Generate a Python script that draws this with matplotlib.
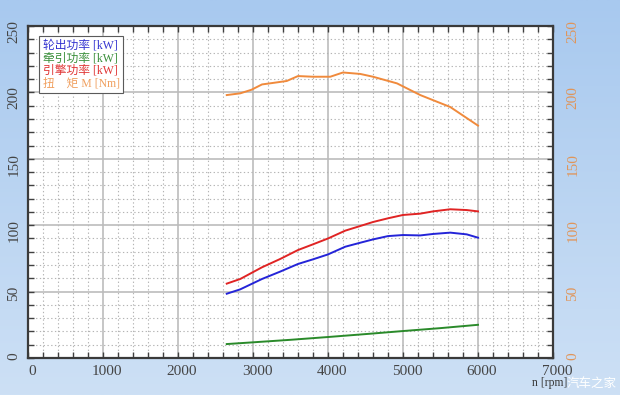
import matplotlib
matplotlib.use('Agg')
import matplotlib.pyplot as plt
import matplotlib.transforms as mtransforms
import numpy as np
from matplotlib.colors import LinearSegmentedColormap

# === DATA ===
rpm_torque = [2650, 2830, 2980, 3120, 3250, 3450, 3600, 3800, 4030, 4200,
              4430, 4600, 4920, 5230, 5630, 6000]
torque = [198, 199.3, 202, 206, 207, 208.6, 212.3, 211.8, 211.8, 215,
          213.9, 211.8, 206.8, 198, 189, 175]

rpm_power = [2650, 2830, 3120, 3360, 3600, 3800, 4000, 4230, 4430, 4600,
             4800, 5000, 5230, 5400, 5630, 5850, 6000]
engine_kw = [56, 59.5, 68.3, 74.5, 81.3, 85.6, 90, 95.9, 99.4, 102.4,
             105.2, 107.7, 108.7, 110.4, 112, 111.4, 110.4]
wheel_kw = [48.4, 51.7, 59.5, 65, 70.8, 74.3, 78, 83.8, 86.8, 89.3,
            91.8, 92.6, 92.3, 93.4, 94.4, 93.1, 90.6]

rpm_traction = [2650, 3000, 3500, 4000, 4500, 5000, 5500, 6000]
traction_kw = [10.5, 11.8, 13.7, 15.8, 18, 20.3, 22.5, 25]

x_ticks = [0, 1000, 2000, 3000, 4000, 5000, 6000, 7000]
y_ticks = [0, 50, 100, 150, 200, 250]

labels = ['轮出功率 [kW]', '牵引功率 [kW]', '引擎功率 [kW]', '扭\u3000矩 M [Nm]']
colors = ['#2424d8', '#2a8a2a', '#e02424', '#f08a3c']
legend_colors = ['#3434d0', '#3a8f3a', '#e03434', '#f0a060']
tick_color_right = '#e0955a'

plt.rcParams['font.family'] = ['Liberation Serif', 'Noto Sans CJK SC', 'DejaVu Sans']

fig = plt.figure(figsize=(6.2, 3.95), dpi=100)

# background gradient
bg = fig.add_axes([0, 0, 1, 1], zorder=-10)
cmap = LinearSegmentedColormap.from_list('bg', ['#a8c9ef', '#cde0f5'])
bg.imshow(np.linspace(0, 1, 256).reshape(-1, 1), aspect='auto', cmap=cmap,
          extent=[0, 1, 0, 1])
bg.axis('off')

ax = fig.add_axes([28 / 620, 1 - 358 / 395, 525 / 620, 332 / 395])
ax.set_facecolor('white')

ax.plot(rpm_power, wheel_kw, color=colors[0], lw=1.4, label=labels[0], zorder=3)
ax.plot(rpm_traction, traction_kw, color=colors[1], lw=1.4, label=labels[1], zorder=3)
ax.plot(rpm_power, engine_kw, color=colors[2], lw=1.4, label=labels[2], zorder=3)
ax.plot(rpm_torque, torque, color=colors[3], lw=1.4, label=labels[3], zorder=3)

ax.set_xlim(0, 7000)
ax.set_ylim(0, 250)
ax.set_xticks(x_ticks)
ax.set_yticks(y_ticks)
ax.set_xticks(np.arange(0, 7001, 200), minor=True)
ax.set_yticks(np.arange(0, 251, 10), minor=True)
ax.grid(True, which='major', color='#bcbcbc', lw=1.2)
ax.grid(True, which='minor', color='#b4b4b4', lw=0.8, ls=(0, (1.2, 2.2)))
ax.set_axisbelow(True)
ax.tick_params(which='both', direction='in', top=True, right=True,
               labelbottom=False, labelleft=False, color='#404040')
ax.tick_params(which='both', length=4, width=1)
for sp in ax.spines.values():
    sp.set_color('#3a3a3a')
    sp.set_linewidth(1.6)

# tick labels drawn as text so their offsets match the reference
up6 = mtransforms.ScaledTranslation(0, 6 / 100, fig.dpi_scale_trans)
ytrans_l = mtransforms.blended_transform_factory(ax.transAxes, ax.transData) + up6
for v in y_ticks:
    ax.text(-7.5 / 525, v, str(v), transform=ytrans_l, rotation=90,
            ha='right', va='top', fontsize=11, color='#454545', clip_on=False)
    ax.text(1 + 13.5 / 525, v, str(v), transform=ytrans_l, rotation=90,
            ha='left', va='top', fontsize=11, color=tick_color_right, clip_on=False)

right4 = mtransforms.ScaledTranslation(4 / 100, 0, fig.dpi_scale_trans)
xtrans = mtransforms.blended_transform_factory(ax.transData, ax.transAxes) + right4
for v in x_ticks:
    ax.text(v, -7 / 332, str(v), transform=xtrans, ha='center', va='top',
            fontsize=11, color='#454545', clip_on=False)

fig.text(567 / 620, 1 - 383 / 395, 'n [rpm]', ha='right', va='center',
         fontsize=8.5, color='#3a3a3a')
fig.text(567 / 620, 1 - 383 / 395, '汽车之家', ha='left', va='center',
         fontsize=9, color='white', family=['Noto Sans CJK SC'])

leg = ax.legend(loc='upper left', bbox_to_anchor=(11 / 525, 1 - 10 / 332),
                handlelength=0, handletextpad=0, fontsize=8.5, labelspacing=0.05,
                borderpad=0.3, borderaxespad=0, fancybox=False, framealpha=1,
                edgecolor='#5a5a5a')
for h in leg.legend_handles:
    h.set_visible(False)
for txt, c in zip(leg.get_texts(), legend_colors):
    txt.set_color(c)
leg.get_frame().set_linewidth(0.8)

fig.savefig('out.png', dpi=100)
